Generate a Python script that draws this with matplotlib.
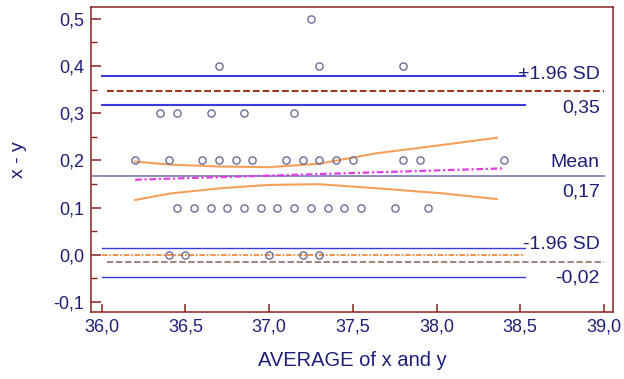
import matplotlib
matplotlib.use("Agg")
import matplotlib.pyplot as plt
from matplotlib.ticker import MultipleLocator, FuncFormatter

# ---- data ----
pts_05 = [37.25]
pts_04 = [36.7, 37.3, 37.8]
pts_03 = [36.35, 36.45, 36.65, 36.85, 37.15]
pts_02 = [36.2, 36.4, 36.6, 36.7, 36.8, 36.9, 37.1, 37.2, 37.3, 37.4, 37.5, 37.8, 37.9, 38.4]
pts_01 = [36.45, 36.55, 36.65, 36.75, 36.85, 36.95, 37.05, 37.15, 37.25, 37.35, 37.45, 37.55, 37.75, 37.95]
pts_00 = [36.4, 36.5, 37.0, 37.2, 37.3]
diff_levels = [0.5, 0.4, 0.3, 0.2, 0.1, 0.0]

mean_diff = 0.166
loa_upper = 0.348
loa_lower = -0.016
ci_upper = [0.317, 0.379]
ci_lower = [-0.047, 0.015]
line_x_full = [36.03, 39.0]
line_x_ci = [36.0, 38.53]

reg_x = [36.2, 38.39]
reg_y = [0.159, 0.183]

band_x = [36.2, 36.41, 36.71, 37.0, 37.3, 37.64, 38.04, 38.36]
band_hi = [0.1975, 0.191, 0.187, 0.1856, 0.193, 0.215, 0.233, 0.248]
band_lo = [0.116, 0.130, 0.141, 0.148, 0.1495, 0.141, 0.130, 0.118]

xticks = [36.0, 36.5, 37.0, 37.5, 38.0, 38.5, 39.0]
yticks = [-0.1, 0.0, 0.1, 0.2, 0.3, 0.4, 0.5]

navy = "#1f1f7a"
spine_red = "#8b2222"

plt.rcParams['font.family'] = ['Liberation Sans', 'DejaVu Sans']

fig = plt.figure(figsize=(6.24, 3.79), dpi=100)
ax = fig.add_axes([0.1458, 0.1776, 0.9824 - 0.1458, 0.9815 - 0.1776])

# reference lines
ax.plot(line_x_ci, [ci_upper[1]] * 2, color="#3a3ae0", lw=1.5)
ax.plot(line_x_ci, [ci_upper[0]] * 2, color="#3a3ae0", lw=1.5)
ax.plot(line_x_full, [loa_upper] * 2, color="#a0301e", lw=1.4, ls=(0, (3.5, 1.5)))
ax.plot([35.936, 39.0], [mean_diff] * 2, color="#7a7ab8", lw=1.2)
ax.plot(line_x_ci, [ci_lower[1]] * 2, color="#3a3ae0", lw=1.0)
ax.plot(line_x_ci, [0.0, 0.0], color="#f08a3c", lw=1.3, ls=(0, (3, 1, 1, 1)))
ax.plot(line_x_full, [loa_lower] * 2, color="#9a7a70", lw=1.3, ls=(0, (3.5, 1.5)))
ax.plot(line_x_ci, [ci_lower[0]] * 2, color="#3a3ae0", lw=1.0)

# regression and confidence band
ax.plot(reg_x, reg_y, color="#e040e0", lw=1.6, ls=(0, (3, 1.2, 1, 1.2)))
ax.plot(band_x, band_hi, color="#f5a05a", lw=1.5)
ax.plot(band_x, band_lo, color="#f5a05a", lw=1.5)

# points
for lvl, xs in zip(diff_levels, [pts_05, pts_04, pts_03, pts_02, pts_01, pts_00]):
    ax.plot(xs, [lvl] * len(xs), ls="none", marker="o", ms=5.2, mfc="none",
            mec="#6c6c98", mew=1.0)

# labels on the right
tx = 38.975
fs_txt = 14
ax.text(tx, 0.381, "+1.96 SD", ha="right", va="center", color=navy, fontsize=fs_txt)
ax.text(tx, 0.311, "0,35", ha="right", va="center", color=navy, fontsize=fs_txt)
ax.text(tx, 0.195, "Mean", ha="right", va="center", color=navy, fontsize=fs_txt)
ax.text(tx, 0.133, "0,17", ha="right", va="center", color=navy, fontsize=fs_txt)
ax.text(tx, 0.021, "-1.96 SD", ha="right", va="center", color=navy, fontsize=fs_txt)
ax.text(tx, -0.049, "-0,02", ha="right", va="center", color=navy, fontsize=fs_txt)

ax.set_xlim(35.936, 39.054)
ax.set_ylim(-0.1206, 0.525)

ax.set_xticks(xticks)
ax.set_yticks(yticks)
ax.yaxis.set_minor_locator(MultipleLocator(0.05))
fmt1 = FuncFormatter(lambda v, p: f"{v:.1f}".replace(".", ",").replace("-0,0", "0,0"))
ax.xaxis.set_major_formatter(fmt1)
ax.yaxis.set_major_formatter(fmt1)

fs_tick = 13
for s in ax.spines.values():
    s.set_color(spine_red)
    s.set_linewidth(1.1)
ax.tick_params(axis="x", direction="in", length=6, width=1.1, color=spine_red,
               labelcolor=navy, labelsize=fs_tick, pad=5)
ax.tick_params(axis="y", which="major", direction="in", length=7, width=1.1,
               color=spine_red, labelcolor=navy, labelsize=fs_tick, pad=5)
ax.tick_params(axis="y", which="minor", direction="in", length=4.5, width=1.0,
               color=spine_red)

ax.set_xlabel("AVERAGE of x and y", color=navy, fontsize=14.5, labelpad=11)
ax.set_ylabel("x - y", color=navy, fontsize=14, labelpad=19)

fig.savefig("out.png", dpi=100)
